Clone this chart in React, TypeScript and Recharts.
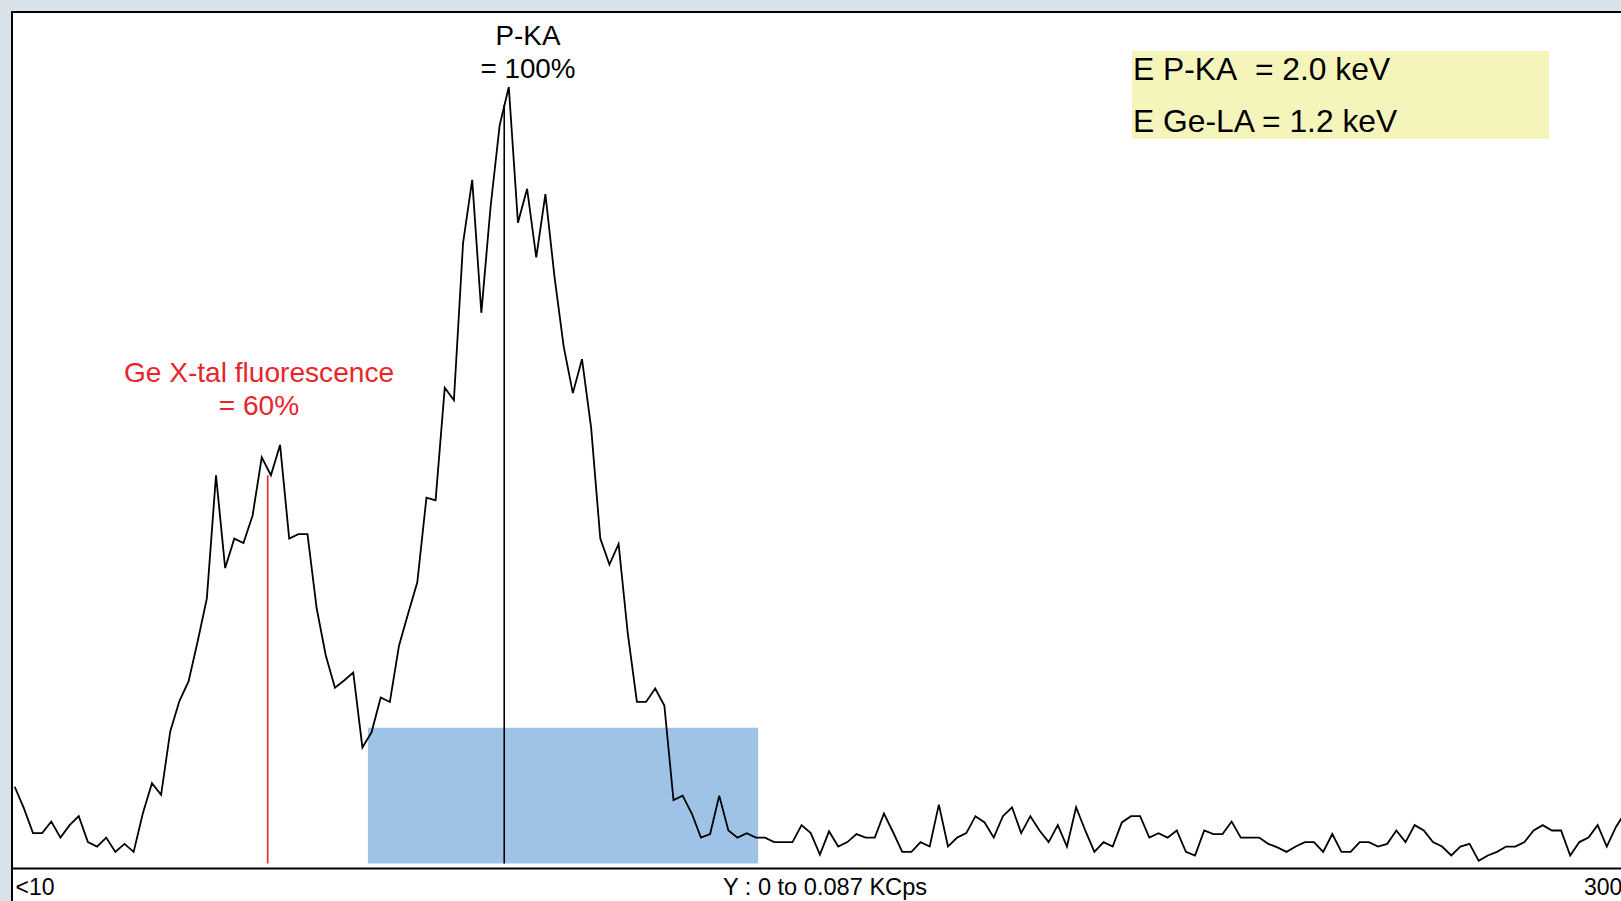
import React from 'react'
import {
  LineChart,
  Line,
  XAxis,
  YAxis,
  ReferenceArea,
  ReferenceLine,
} from 'recharts'

// counts per channel (cps), channel 0 = "<10" ... channel 176 = right edge
const counts = [
  8.6, 6.2, 3.4, 3.4, 4.7, 2.9, 4.3, 5.3, 2.4, 1.9,
  2.9, 1.3, 2.2, 1.3, 5.6, 9.0, 7.7, 14.8, 18.2, 20.4,
  24.9, 29.7, 43.5, 33.1, 36.4, 35.9, 39.0, 45.5, 43.5, 46.9,
  36.4, 36.9, 36.9, 28.6, 23.3, 19.7, 20.5, 21.4, 13.0, 14.7,
  18.6, 18.1, 24.4, 28.0, 31.5, 41.0, 40.7, 53.3, 51.9, 69.5,
  76.6, 61.7, 73.5, 82.7, 87.0, 71.8, 75.6, 67.9, 75.0, 65.7,
  57.9, 52.7, 56.5, 48.8, 36.4, 33.5, 35.8, 25.8, 18.1, 18.1,
  19.6, 17.7, 7.1, 7.6, 5.6, 2.9, 3.3, 7.6, 3.7, 2.9,
  3.4, 2.9, 2.9, 2.4, 2.4, 2.4, 4.3, 3.4, 1.0, 3.6,
  1.9, 2.4, 3.3, 2.9, 2.9, 5.6, 3.5, 1.3, 1.3, 2.4,
  1.9, 6.6, 1.9, 2.9, 3.4, 5.3, 4.6, 2.9, 5.3, 6.3,
  3.4, 5.3, 3.7, 2.4, 4.3, 1.9, 6.3, 3.7, 1.3, 2.4,
  1.9, 4.6, 5.3, 5.3, 2.9, 3.4, 2.9, 3.7, 1.3, 0.9,
  3.7, 3.3, 3.3, 4.7, 2.9, 2.9, 2.9, 2.2, 1.8, 1.3,
  1.9, 2.4, 2.4, 1.3, 3.3, 1.3, 1.3, 2.4, 2.4, 1.9,
  2.2, 3.7, 2.4, 4.3, 3.7, 2.4, 1.9, 0.9, 1.9, 2.2,
  0.3, 0.9, 1.3, 1.9, 1.9, 2.4, 3.7, 4.3, 3.7, 3.7,
  0.9, 2.4, 2.9, 4.3, 1.9, 4.1, 5.7,
]

// peak markers: channel position and height of the marker line
const peakChannels = [53.5, 27.65]
const peakTops = [85.0, 43.5]
const peakColors = ['#000000', '#e8262a']

// integration window (blue box)
const roiChannels = [38.6, 81.25]
const roiTop = 15.2

const axisLabels = ['<10', 'Y : 0 to 0.087 KCps', '300']
const energyLines = ['E P-KA\u00a0 = 2.0 keV', 'E Ge-LA = 1.2 keV']

const FONT = '"Liberation Sans", Arial, Helvetica, sans-serif'
const RED = '#e8262a'

export default function App() {
  const data = counts.map((cps, ch) => ({ ch, cps }))

  return (
    <div
      style={{
        position: 'fixed',
        left: 0,
        top: 0,
        width: 1621,
        height: 901,
        overflow: 'hidden',
        background: '#d8e2e8',
        fontFamily: FONT,
      }}
    >
      <div
        style={{
          position: 'absolute',
          left: 11,
          top: 11,
          width: 1700,
          height: 1000,
          background: '#fff',
          borderLeft: '2px solid #000',
          borderTop: '2px solid #000',
        }}
      />
      <div style={{ position: 'absolute', left: 0, top: 0 }}>
        <LineChart
          width={1680}
          height={901}
          data={data}
          margin={{ top: 87, right: 54.9, bottom: 0, left: 12 }}
        >
          <XAxis
            type="number"
            dataKey="ch"
            domain={[0, 176]}
            height={32.5}
            tick={false}
            tickLine={false}
            axisLine={{ stroke: '#000', strokeWidth: 2 }}
            padding={{ left: 2.7, right: 0 }}
          />
          <YAxis hide domain={[0, 87]} padding={{ top: 0, bottom: 5 }} />
          <ReferenceArea
            x1={roiChannels[0]}
            x2={roiChannels[1]}
            y1={0}
            y2={roiTop}
            fill="#9ec3e7"
            fillOpacity={1}
            stroke="none"
          />
          <Line
            type="linear"
            dataKey="cps"
            stroke="#000"
            strokeWidth={1.8}
            dot={false}
            isAnimationActive={false}
          />
          {peakChannels.map((ch, i) => (
            <ReferenceLine
              key={i}
              segment={[
                { x: ch, y: 0 },
                { x: ch, y: peakTops[i] },
              ]}
              stroke={peakColors[i]}
              strokeWidth={1.6}
            />
          ))}
        </LineChart>
      </div>
      <svg
        width={1621}
        height={901}
        style={{ position: 'absolute', left: 0, top: 0, fontFamily: FONT }}
      >
        <rect x={1132} y={51} width={417} height={88} fill="#f5f5bb" />
        <text x={1133} y={80} fontSize={31.8} fill="#000">
          {energyLines[0]}
        </text>
        <text x={1133} y={131.5} fontSize={31.8} fill="#000">
          {energyLines[1]}
        </text>

        <text x={528} y={45} fontSize={27.8} textAnchor="middle" fill="#000">
          P-KA
        </text>
        <text x={528} y={78} fontSize={27.8} textAnchor="middle" fill="#000">
          = 100%
        </text>

        <text x={259} y={382} fontSize={28.1} textAnchor="middle" fill={RED}>
          Ge X-tal fluorescence
        </text>
        <text x={259} y={415} fontSize={28.1} textAnchor="middle" fill={RED}>
          = 60%
        </text>

        <text x={15.5} y={895} fontSize={23} fill="#000">
          {axisLabels[0]}
        </text>
        <text x={825} y={895} fontSize={23.6} textAnchor="middle" fill="#000">
          {axisLabels[1]}
        </text>
        <text x={1584} y={895} fontSize={23} fill="#000">
          {axisLabels[2]}
        </text>
      </svg>
    </div>
  )
}
